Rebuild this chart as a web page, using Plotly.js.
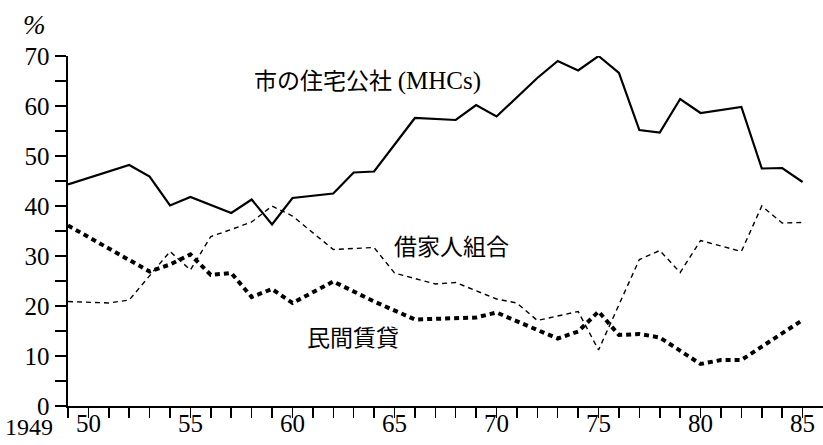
<!DOCTYPE html>
<html>
<head>
<meta charset="utf-8">
<script src="https://cdn.plot.ly/plotly-3.0.1.min.js"></script>
<style>html,body{margin:0;padding:0;background:#fff;}#chart{width:823px;height:445px;}</style>
</head>
<body>
<div id="chart"></div>
<script>
// --- Data ---
const mhcYears = [1949, 1952, 1953, 1954, 1955, 1957, 1958, 1959, 1960, 1962, 1963, 1964, 1966, 1968, 1969, 1970, 1972, 1973, 1974, 1975, 1976, 1977, 1978, 1979, 1980, 1982, 1983, 1984, 1985];
const mhcValues = [44.3, 48.2, 45.9, 40.1, 41.8, 38.6, 41.3, 36.3, 41.6, 42.5, 46.7, 46.9, 57.6, 57.2, 60.2, 57.9, 65.6, 69.0, 67.1, 70.0, 66.6, 55.2, 54.7, 61.4, 58.6, 59.8, 47.5, 47.6, 44.8];

const tenantYears = [1949, 1951, 1952, 1954, 1955, 1956, 1957, 1958, 1959, 1960, 1962, 1964, 1965, 1967, 1968, 1970, 1971, 1972, 1974, 1975, 1977, 1978, 1979, 1980, 1982, 1983, 1984, 1985];
const tenantValues = [20.9, 20.6, 21.2, 30.9, 27.2, 33.9, 35.3, 36.8, 40.0, 38.0, 31.3, 31.7, 26.6, 24.4, 24.7, 21.4, 20.6, 17.1, 18.9, 11.2, 29.3, 31.1, 26.7, 33.1, 30.9, 40.0, 36.6, 36.7];

const privateYears = [1949, 1953, 1954, 1955, 1956, 1957, 1958, 1959, 1960, 1962, 1964, 1966, 1969, 1970, 1972, 1973, 1974, 1975, 1976, 1977, 1978, 1980, 1981, 1982, 1985];
const privateValues = [36.1, 26.9, 28.3, 30.3, 26.2, 26.6, 21.8, 23.4, 20.6, 24.9, 20.9, 17.3, 17.7, 18.7, 15.2, 13.5, 14.9, 18.9, 14.2, 14.4, 13.7, 8.4, 9.2, 9.2, 17.2];

const seriesNames = ["市の住宅公社", "(MHCs)", "借家人組合", "民間賃貸"];

const xTickYears = [];
for (let y = 1949; y <= 1985; y++) xTickYears.push(y);
const xTickText = xTickYears.map(y => (y % 5 === 0 ? String(y).slice(2) : ""));
const yTickVals = [0, 5, 10, 15, 20, 25, 30, 35, 40, 45, 50, 55, 60, 65, 70];
const yTickText = yTickVals.map(v => (v % 10 === 0 ? String(v) : ""));
const firstYearLabel = "1949";
const unitLabel = "%";

// --- Chart ---
const serif = "Liberation Serif, Times New Roman, serif";
const cjk = "Liberation Serif, Noto Sans CJK JP, sans-serif";

const traces = [
  {x: mhcYears, y: mhcValues, name: seriesNames[0] + seriesNames[1], mode: "lines",
   line: {color: "#000", width: 2.2}},
  {x: tenantYears, y: tenantValues, name: seriesNames[2], mode: "lines",
   line: {color: "#000", width: 1.4, dash: "5px,4px"}},
  {x: privateYears, y: privateValues, name: seriesNames[3], mode: "lines",
   line: {color: "#000", width: 4, dash: "5px,4px"}}
];

const layout = {
  width: 823, height: 445,
  margin: {l: 68, r: 0, t: 56, b: 39, pad: 0},
  paper_bgcolor: "#fff", plot_bgcolor: "#fff",
  showlegend: false,
  xaxis: {
    range: [1949, 1986], showgrid: false, zeroline: false,
    showline: true, linecolor: "#000", linewidth: 2,
    tickmode: "array", tickvals: xTickYears, ticktext: xTickText,
    ticks: "outside", ticklen: 10, tickwidth: 1.5, tickcolor: "#000",
    ticklabelstandoff: -16,
    tickfont: {family: serif, size: 25, color: "#000"}
  },
  yaxis: {
    range: [0, 70], showgrid: false, zeroline: false,
    showline: true, linecolor: "#000", linewidth: 2.5,
    tickmode: "array", tickvals: yTickVals, ticktext: yTickText,
    ticks: "outside", ticklen: 11, tickwidth: 1.5, tickcolor: "#000",
    tickfont: {family: serif, size: 25, color: "#000"}
  },
  annotations: [
    {x: -0.045, y: 1.089, xref: "paper", yref: "paper", text: "<i>" + unitLabel + "</i>", showarrow: false,
     xanchor: "center", yanchor: "middle", font: {family: serif, size: 27, color: "#000"}},
    {x: -0.017, y: -0.06, xref: "paper", yref: "paper", text: firstYearLabel, showarrow: false,
     xanchor: "right", yanchor: "middle", font: {family: serif, size: 24, color: "#000"}},
    {x: 1958, y: 65, xref: "x", yref: "y",
     text: seriesNames[0] + ' <span style="font-size:25px">' + seriesNames[1] + '</span>',
     showarrow: false, xanchor: "left", font: {family: cjk, size: 23, color: "#000"}},
    {x: 1964.9, y: 31.7, xref: "x", yref: "y", text: seriesNames[2], showarrow: false,
     xanchor: "left", font: {family: cjk, size: 23, color: "#000"}},
    {x: 1960.6, y: 13.5, xref: "x", yref: "y", text: seriesNames[3], showarrow: false,
     xanchor: "left", font: {family: cjk, size: 23, color: "#000"}}
  ]
};

Plotly.newPlot("chart", traces, layout, {staticPlot: true, displayModeBar: false});
</script>
</body>
</html>
